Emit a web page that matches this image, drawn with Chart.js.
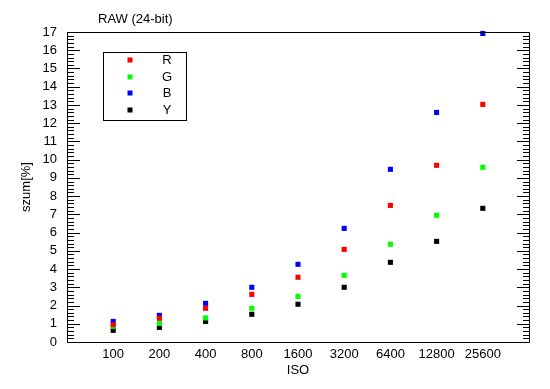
<!DOCTYPE html>
<html>
<head>
<meta charset="utf-8">
<script src="https://cdn.jsdelivr.net/npm/chart.js@4/dist/chart.umd.min.js"></script>
<style>
  html, body { margin: 0; padding: 0; background: #fff; }
  #wrap { width: 550px; height: 389px; }
</style>
</head>
<body>
<div id="wrap"><canvas id="chart"></canvas></div>
<script>
// ISO categories and noise values (%)
const isoLabels = ["100", "200", "400", "800", "1600", "3200", "6400", "12800", "25600"];
const valuesR = [0.95, 1.30, 1.85, 2.61, 3.55, 5.08, 7.49, 9.69, 13.03];
const valuesG = [0.86, 1.02, 1.32, 1.85, 2.50, 3.66, 5.36, 6.95, 9.58];
const valuesB = [1.13, 1.46, 2.12, 3.00, 4.26, 6.23, 9.47, 12.59, 16.92];
const valuesY = [0.64, 0.80, 1.13, 1.52, 2.07, 3.00, 4.37, 5.52, 7.33];
const seriesNames = ["R", "G", "B", "Y"];
const seriesColors = ["#ff0000", "#00ff00", "#0000ff", "#000000"];

const FONT = "'Liberation Sans', Arial, sans-serif";

function toPoints(arr) {
    return arr.map(function (v, i) { return { x: i + 1, y: v }; });
}

const allValues = [valuesR, valuesG, valuesB, valuesY];
const datasets = allValues.map(function (vals, i) {
    return {
        label: seriesNames[i],
        data: toPoints(vals),
        backgroundColor: seriesColors[i],
        borderColor: seriesColors[i],
        borderWidth: 0,
        pointStyle: "rect",
        pointRadius: 3.6,
        pointHoverRadius: 3.6,
        showLine: false,
        clip: false
    };
});

// frame, inward ticks, title and boxed legend
const decorations = {
    id: "decorations",
    afterDraw: function (chart) {
        const ctx = chart.ctx;
        const a = chart.chartArea;
        const ys = chart.scales.y;
        ctx.save();
        ctx.strokeStyle = "#000";
        ctx.lineWidth = 1;
        ctx.beginPath();
        ctx.rect(Math.round(a.left) + 0.5, Math.round(a.top) + 0.5,
            Math.round(a.right - a.left), Math.round(a.bottom - a.top));
        ctx.stroke();

        // y ticks, every 0.2, on both sides
        ctx.beginPath();
        for (let k = 0; k <= 85; k++) {
            const v = k / 5;
            const py = Math.round(ys.getPixelForValue(v)) + 0.5;
            const major = k % 5 === 0;
            const l = Math.round(a.left);
            const r = Math.round(a.right);
            ctx.moveTo(l, py);
            ctx.lineTo(l + (major ? 13 : 7), py);
            ctx.moveTo(r, py);
            ctx.lineTo(r - (major ? 12 : 6), py);
        }
        ctx.stroke();

        // title
        ctx.fillStyle = "#000";
        ctx.font = "13px " + FONT;
        ctx.textAlign = "left";
        ctx.textBaseline = "middle";
        ctx.fillText("RAW (24-bit)", 98, 19);

        // legend box
        ctx.strokeRect(103.5, 52.5, 83, 68);
        ctx.textAlign = "center";
        chart.data.datasets.forEach(function (ds, i) {
            const cy = 60 + i * 16.7;
            ctx.fillStyle = ds.backgroundColor;
            ctx.fillRect(127.5, Math.round(cy) - 2.5, 5, 5);
            ctx.fillStyle = "#000";
            ctx.fillText(ds.label, 167, cy + 0.5);
        });
        ctx.restore();
    }
};

new Chart(document.getElementById("chart"), {
    type: "scatter",
    data: { datasets: datasets },
    options: {
        responsive: true,
        maintainAspectRatio: false,
        animation: false,
        events: [],
        layout: { padding: { left: 0, right: 21, top: 32, bottom: 0 } },
        plugins: {
            legend: { display: false },
            tooltip: { enabled: false },
            title: { display: false }
        },
        scales: {
            x: {
                type: "linear",
                min: 0,
                max: 10,
                afterBuildTicks: function (scale) {
                    scale.ticks = isoLabels.map(function (_, i) { return { value: i + 1 }; });
                },
                afterFit: function (scale) { scale.height = 47; },
                grid: { display: false, drawTicks: false },
                border: { display: false },
                ticks: {
                    autoSkip: false,
                    maxRotation: 0,
                    padding: 5,
                    color: "#000",
                    font: { family: FONT, size: 13 },
                    callback: function (v) { return isoLabels[v - 1]; }
                },
                title: {
                    display: true,
                    text: "ISO",
                    color: "#000",
                    font: { family: FONT, size: 13 },
                    padding: { top: 0, bottom: 11 }
                }
            },
            y: {
                min: 0,
                max: 17,
                afterFit: function (scale) { scale.width = 67; },
                grid: { display: false, drawTicks: false },
                border: { display: false },
                ticks: {
                    stepSize: 1,
                    autoSkip: false,
                    padding: 10,
                    color: "#000",
                    font: { family: FONT, size: 13 }
                },
                title: {
                    display: true,
                    text: "szum[%]",
                    color: "#000",
                    font: { family: FONT, size: 13 },
                    padding: { top: 19, bottom: 0 }
                }
            }
        }
    },
    plugins: [decorations]
});
</script>
</body>
</html>
